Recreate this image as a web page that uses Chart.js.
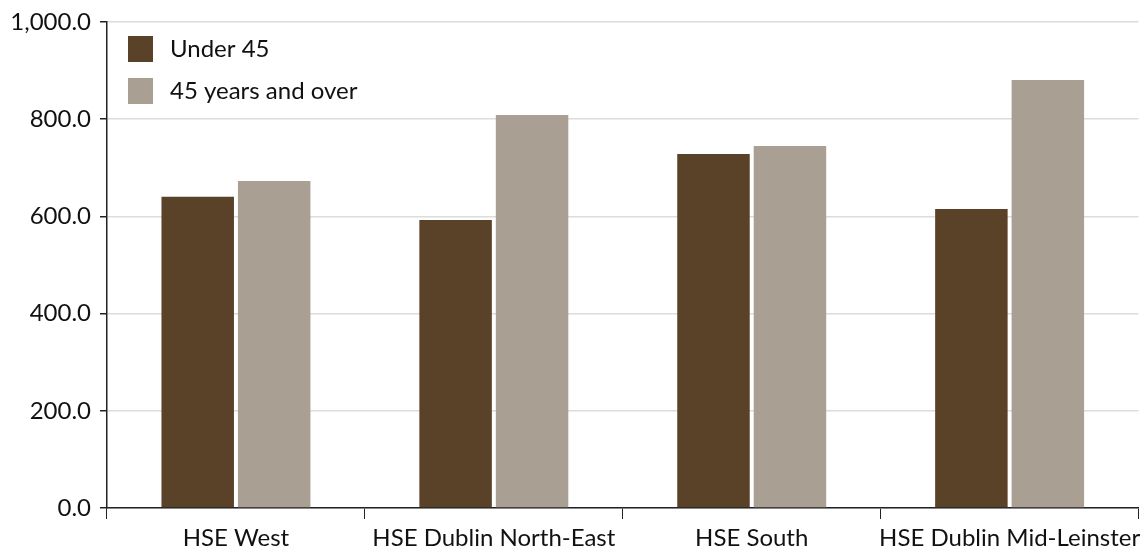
<!DOCTYPE html>
<html>
<head>
<meta charset="utf-8">
<script src="https://cdn.jsdelivr.net/npm/chart.js@4.4.1/dist/chart.umd.min.js"></script>
<style>
html,body{margin:0;padding:0;background:#fff;}
#wrap{width:1146px;height:552px;position:relative;}
</style>
</head>
<body>
<div id="wrap"><canvas id="c" width="1146" height="552"></canvas></div>
<script>
const categories = ["HSE West", "HSE Dublin North-East", "HSE South", "HSE Dublin Mid-Leinster"];
const under45 = [640.5, 592.6, 728.4, 615.2];
const over45 = [672.8, 808.6, 744.9, 880.7];
const seriesNames = ["Under 45", "45 years and over"];
const yTicks = [0, 200, 400, 600, 800, 1000];

const FONT = "Lato, 'Open Sans', sans-serif";
const FS = 24;

const legendPlugin = {
  id: 'insideLegend',
  afterDraw(chart) {
    const ctx = chart.ctx;
    const area = chart.chartArea;
    ctx.save();
    ctx.font = FS + "px " + FONT;
    ctx.textBaseline = 'middle';
    chart.data.datasets.forEach((ds, i) => {
      const x = area.left + 21;
      const y = area.top + 14 + i * 42;
      ctx.fillStyle = ds.backgroundColor;
      ctx.fillRect(x, y, 25, 26);
      ctx.fillStyle = '#111';
      ctx.fillText(ds.label, x + 42, y + 13);
    });
    ctx.restore();
  }
};

new Chart(document.getElementById('c'), {
  type: 'bar',
  data: {
    labels: categories,
    datasets: [
      { label: seriesNames[0], data: under45, backgroundColor: '#5a4229' },
      { label: seriesNames[1], data: over45, backgroundColor: '#a99f93' }
    ]
  },
  options: {
    responsive: false,
    animation: false,
    devicePixelRatio: 1,
    layout: { padding: { top: 22, right: 7, left: 0, bottom: 0 } },
    plugins: { legend: { display: false }, tooltip: { enabled: false } },
    datasets: { bar: { categoryPercentage: 0.593, barPercentage: 0.948 } },
    scales: {
      x: {
        grid: { offset: true, drawOnChartArea: false, tickLength: 11, tickColor: '#222', tickWidth: 1 },
        border: { color: '#222', width: 1.5 },
        ticks: { color: '#111', font: { family: FONT, size: FS }, padding: 5, maxRotation: 0, autoSkip: false },
        afterFit(s) { s.height = 44; }
      },
      y: {
        min: 0, max: 1000,
        afterBuildTicks(s) { s.ticks = yTicks.map(v => ({ value: v })); },
        grid: { color: '#dcdcdc', lineWidth: 1.5, tickLength: 7, tickColor: '#222', drawTicks: true },
        border: { color: '#222', width: 1.5 },
        ticks: {
          color: '#111', font: { family: FONT, size: FS, lineHeight: 1 }, padding: 9,
          callback: v => v.toLocaleString('en-US', { minimumFractionDigits: 1, maximumFractionDigits: 1 })
        },
        afterFit(s) { s.width = 107; }
      }
    }
  },
  plugins: [legendPlugin]
});
</script>
</body>
</html>
